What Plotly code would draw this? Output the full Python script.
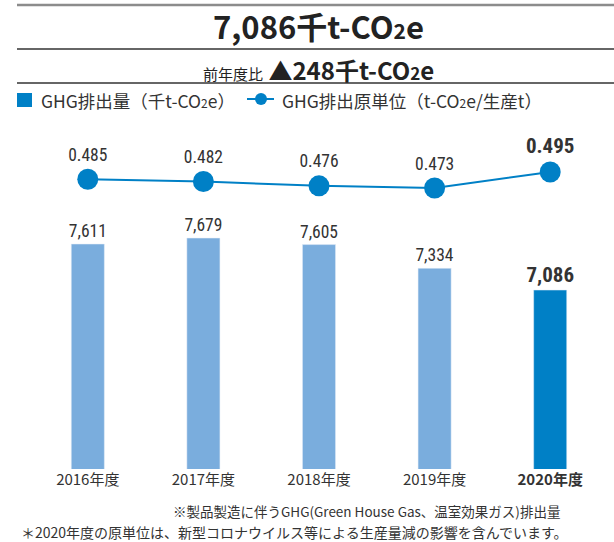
import plotly.graph_objects as go

# ---- data ----
years = ["2016年度", "2017年度", "2018年度", "2019年度", "2020年度"]
ghg_emissions = [7611, 7679, 7605, 7334, 7086]          # 千t-CO2e
ghg_intensity = [0.485, 0.482, 0.476, 0.473, 0.495]     # t-CO2e/生産t
tick_labels = ["2016年度", "2017年度", "2018年度", "2019年度", "<b>2020年度</b>"]

LIGHT = "#7aaddd"
DARK = "#0080c6"
TXT = "#333333"
NUM_FONT = "Roboto Condensed, Roboto, sans-serif"
JP_FONT = "Noto Sans CJK JP, Noto Sans, sans-serif"

W, H = 614, 542
L, R, T, B = 30, 6, 130, 73
PW, PH = W - L - R, H - T - B


def px(x):
    return (x - L) / PW


def py(y):
    return (H - B - y) / PH


bar_colors = [LIGHT] * (len(years) - 1) + [DARK]
bar_text = [f"{v:,}" for v in ghg_emissions]
bar_text[-1] = f"<b>{bar_text[-1]}</b>"
bar_sizes = [17.5] * (len(years) - 1) + [21]

line_text = [f"{v:.3f}" for v in ghg_intensity]
line_text[-1] = f"<b>{line_text[-1]}</b>"
line_sizes = [17.5] * (len(years) - 1) + [21]

fig = go.Figure()
fig.add_trace(go.Bar(
    x=years, y=ghg_emissions, marker_color=bar_colors, width=0.286,
    text=bar_text, textposition="outside", cliponaxis=False, constraintext="none",
    textfont=dict(family=NUM_FONT, size=bar_sizes, color=TXT),
    showlegend=False, hoverinfo="skip",
))
fig.add_trace(go.Scatter(
    x=years, y=ghg_intensity, yaxis="y2", mode="lines+markers+text",
    line=dict(color=DARK, width=2),
    marker=dict(size=21, color=DARK),
    text=line_text, textposition="top center", cliponaxis=False,
    textfont=dict(family=NUM_FONT, size=line_sizes, color=TXT),
    showlegend=False, hoverinfo="skip",
))

shapes = [
    dict(type="line", xref="paper", yref="paper", x0=px(17), x1=px(614), y0=py(5), y1=py(5),
         line=dict(color="#8c8c8c", width=2.5)),
    dict(type="line", xref="paper", yref="paper", x0=px(17), x1=px(614), y0=py(49), y1=py(49),
         line=dict(color="#333333", width=1.5)),
    dict(type="line", xref="paper", yref="paper", x0=px(17), x1=px(614), y0=py(83), y1=py(83),
         line=dict(color="#333333", width=1.5)),
    dict(type="rect", xref="paper", yref="paper", x0=px(17), x1=px(32), y0=py(93), y1=py(107),
         fillcolor=DARK, line=dict(width=0)),
    dict(type="line", xref="paper", yref="paper", x0=px(247), x1=px(274), y0=py(99), y1=py(99),
         line=dict(color=DARK, width=2)),
    dict(type="circle", xref="paper", yref="paper", x0=px(255), x1=px(267), y0=py(93), y1=py(105),
         fillcolor=DARK, line=dict(width=0)),
]

annotations = [
    dict(x=px(318), y=py(26), xref="paper", yref="paper", showarrow=False,
         text="<b>7,086千t-CO<span style='font-size:21px'>2</span>e</b>",
         font=dict(family=JP_FONT, size=31, color="#222222"), xanchor="center", yanchor="middle"),
    dict(x=px(318), y=py(70), xref="paper", yref="paper", showarrow=False,
         text="<span style='font-size:15px'>前年度比</span> <b>▲248千t-CO<span style='font-size:17px'>2</span>e</b>",
         font=dict(family=JP_FONT, size=24, color="#222222"), xanchor="center", yanchor="middle"),
    dict(x=px(39), y=py(100), xref="paper", yref="paper", showarrow=False,
         text="GHG排出量（千t-CO<span style='font-size:12px'>2</span>e）",
         font=dict(family=JP_FONT, size=17.5, color=TXT), xanchor="left", yanchor="middle"),
    dict(x=px(280), y=py(100), xref="paper", yref="paper", showarrow=False,
         text="GHG排出原単位（t-CO<span style='font-size:12px'>2</span>e/生産t）",
         font=dict(family=JP_FONT, size=17.5, color=TXT), xanchor="left", yanchor="middle"),
    dict(x=px(172), y=py(511), xref="paper", yref="paper", showarrow=False,
         text="※製品製造に伴うGHG(Green House Gas、温室効果ガス)排出量",
         font=dict(family=JP_FONT, size=13.5, color=TXT), xanchor="left", yanchor="middle",
         borderpad=0),
    dict(x=px(20), y=py(532), xref="paper", yref="paper", showarrow=False,
         text="＊2020年度の原単位は、新型コロナウイルス等による生産量減の影響を含んでいます。",
         font=dict(family=JP_FONT, size=14, color=TXT), xanchor="left", yanchor="middle",
         borderpad=0),
]

fig.update_layout(
    width=W, height=H,
    margin=dict(l=L, r=R, t=T, b=B, pad=0),
    paper_bgcolor="white", plot_bgcolor="white",
    xaxis=dict(tickmode="array", tickvals=years, ticktext=tick_labels,
               tickfont=dict(family=JP_FONT, size=15, color=TXT),
               showgrid=False, zeroline=False, showline=False, ticks=""),
    yaxis=dict(range=[5043, 8913], visible=False, showgrid=False),
    yaxis2=dict(range=[0.0865, 0.5528], overlaying="y", visible=False, showgrid=False),
    shapes=shapes, annotations=annotations,
    bargap=0.7,
)

post = (
    "document.body.style.margin='0';"
    "document.body.style.overflow='hidden';"
)
fig.write_html("out.html", post_script=post, config={"displayModeBar": False})
